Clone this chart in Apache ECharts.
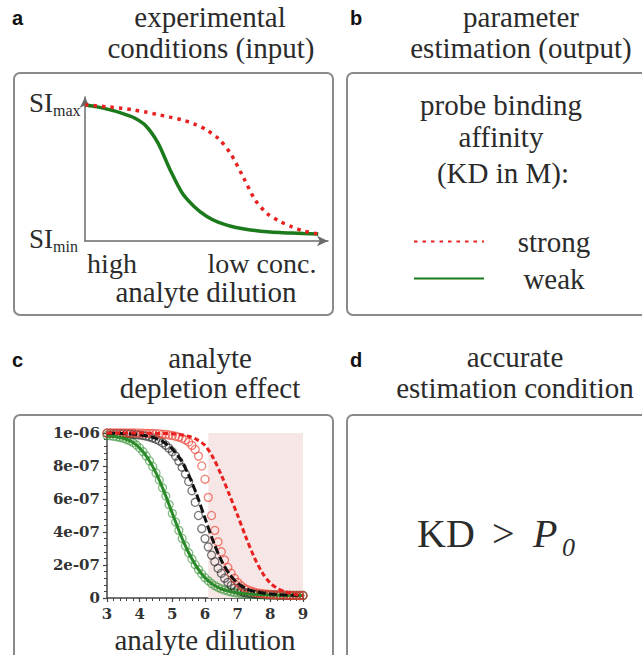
<!DOCTYPE html>
<html><head><meta charset="utf-8">
<script src="https://cdn.jsdelivr.net/npm/echarts@6/dist/echarts.min.js"></script>
<style>html,body{margin:0;padding:0;background:#fff}#c{width:642px;height:655px}</style>
</head><body><div id="c"></div>
<script>
// ---------- Panel a: schematic curves (x: 0..100 dilution, y: 0..100 signal) ----------
const aX       = [0, 5, 10, 15, 20, 25, 30, 35, 40, 45, 50, 55, 60, 65, 70, 75, 80, 85, 90, 96];
const aStrongY = [99.3, 98.5, 97.7, 96.8, 95.5, 94, 92.2, 90.3, 88.3, 85.3, 81, 74.5, 63.5, 47, 30, 20, 14.5, 10.5, 7.3, 5.1];
const aWeakY   = [99.3, 97.8, 95.8, 93.3, 90, 84, 71.5, 52, 35, 25, 18, 13.5, 10.8, 9, 7.7, 6.8, 6.2, 5.8, 5.4, 5.1];

// ---------- Panel c: analyte depletion (x: dilution 3..9, y in units of 1e-6) ----------
const lineX = [3.0,3.25,3.5,3.75,4.0,4.25,4.5,4.75,5.0,5.25,5.5,5.75,6.0,6.25,6.5,6.75,7.0,7.25,7.5,7.75,8.0,8.25,8.5,8.75,9.0];
const greenLine = [0.985,0.979,0.968,0.948,0.909,0.847,0.758,0.643,0.513,0.385,0.274,0.187,0.123,0.081,0.055,0.040,0.030,0.025,0.022,0.020,0.018,0.017,0.016,0.016,0.015];
const blackLine = [0.999,0.998,0.997,0.994,0.989,0.981,0.967,0.943,0.903,0.840,0.746,0.624,0.483,0.344,0.228,0.145,0.090,0.058,0.040,0.030,0.024,0.020,0.018,0.016,0.015];
const redLine   = [1.0,1.0,1.0,1.0,1.0,0.999,0.998,0.997,0.995,0.990,0.980,0.960,0.925,0.850,0.745,0.625,0.500,0.370,0.250,0.155,0.090,0.055,0.035,0.022,0.015];

const circleX = [3.0,3.1,3.2,3.3,3.4,3.5,3.6,3.7,3.8,3.9,4.0,4.1,4.2,4.3,4.4,4.5,4.6,4.7,4.8,4.9,5.0,5.1,5.2,5.3,5.4,5.5,5.6,5.7,5.8,5.9,6.0,6.1,6.2,6.3,6.4,6.5,6.6,6.7,6.8,6.9,7.0,7.1,7.2,7.3,7.4,7.5,7.6,7.7,7.8,7.9,8.0,8.1,8.2,8.3,8.4,8.5,8.6,8.7,8.8,8.9,9.0];
const greenCircles = [0.985,0.983,0.980,0.977,0.973,0.968,0.961,0.953,0.942,0.927,0.909,0.887,0.861,0.831,0.797,0.758,0.715,0.668,0.618,0.566,0.513,0.461,0.410,0.361,0.316,0.274,0.236,0.202,0.172,0.146,0.123,0.104,0.088,0.075,0.064,0.055,0.048,0.042,0.037,0.033,0.030,0.028,0.026,0.024,0.023,0.022,0.021,0.020,0.019,0.019,0.018,0.018,0.017,0.017,0.017,0.016,0.016,0.016,0.016,0.015,0.015];
const blackCircles = [0.999,0.999,0.998,0.998,0.997,0.996,0.995,0.994,0.992,0.990,0.988,0.985,0.981,0.976,0.970,0.962,0.953,0.941,0.926,0.908,0.886,0.860,0.829,0.793,0.752,0.706,0.650,0.580,0.500,0.420,0.360,0.310,0.260,0.220,0.180,0.150,0.120,0.095,0.075,0.060,0.048,0.040,0.034,0.030,0.027,0.025,0.023,0.022,0.021,0.020,0.019,0.018,0.018,0.017,0.017,0.016,0.016,0.016,0.016,0.015,0.015];
const redCircles   = [1.0,1.0,1.0,1.0,1.0,1.0,1.0,1.0,1.0,1.0,0.999,0.999,0.998,0.998,0.997,0.996,0.995,0.993,0.991,0.988,0.985,0.980,0.975,0.968,0.958,0.945,0.925,0.900,0.860,0.800,0.720,0.610,0.500,0.410,0.340,0.280,0.230,0.185,0.150,0.120,0.095,0.075,0.060,0.050,0.042,0.036,0.031,0.028,0.025,0.023,0.021,0.020,0.019,0.018,0.018,0.017,0.017,0.016,0.016,0.015,0.015];

const yTickLabels = ['0', '2e-07', '4e-07', '6e-07', '8e-07', '1e-06'];
const cutoffX = 6;           // dotted vertical line
const shadeRange = [6.1, 9]; // shaded region (x)
const shadeTop = 1.02;

const zip = (xs, ys) => xs.map((x, i) => [x, ys[i]]);

const SERIF = "Liberation Serif, DejaVu Serif, serif";
const SANS = "Liberation Sans, DejaVu Sans, sans-serif";
const TXT = '#2b2b2b';

function T(text, x, baseline, size, align, extra) {
  const st = Object.assign({
    text: text, x: x, y: baseline - 0.34 * size,
    fontSize: size, fontFamily: SERIF, fill: TXT,
    textAlign: align || 'center', textVerticalAlign: 'middle',
    align: align || 'center', verticalAlign: 'middle'
  }, extra || {});
  return { type: 'text', silent: true, z: 10, style: st };
}
function box(x, y, w, h) {
  return { type: 'rect', silent: true, z: 0, shape: { x: x, y: y, width: w, height: h, r: 6 },
    style: { fill: 'none', stroke: '#8a8a8a', lineWidth: 2 } };
}

const chart = echarts.init(document.getElementById('c'), null, { renderer: 'svg' });

const graphics = [
  box(14, 73, 319, 242),
  box(347, 73, 320, 242),
  box(14, 415, 319, 260),
  box(347, 415, 320, 260),
  T('a', 12, 25, 20, 'left', { fontFamily: SANS, fontWeight: 'bold', fill: '#111' }),
  T('b', 350, 25, 20, 'left', { fontFamily: SANS, fontWeight: 'bold', fill: '#111' }),
  T('c', 12, 367, 20, 'left', { fontFamily: SANS, fontWeight: 'bold', fill: '#111' }),
  T('d', 350, 367, 20, 'left', { fontFamily: SANS, fontWeight: 'bold', fill: '#111' }),
  T('experimental', 210, 27, 29),
  T('conditions (input)', 211, 58, 29),
  T('parameter', 521, 27, 29),
  T('estimation (output)', 521, 58, 29),
  T('analyte', 210, 368, 29),
  T('depletion effect', 210, 398, 29),
  T('accurate', 515, 367, 29),
  T('estimation condition', 515, 398, 29),
  T('SI', 53, 112, 27, 'right'),
  T('max', 53, 116, 16, 'left'),
  T('SI', 53, 248, 27, 'right'),
  T('min', 53, 252, 16, 'left'),
  T('high', 112, 273, 28),
  T('low conc.', 262, 273, 28),
  T('analyte dilution', 206, 302, 29),
  T('probe binding', 501, 115, 29),
  T('affinity', 501, 147, 29),
  T('(KD in M):', 503, 183, 29),
  T('KD', 417, 547, 40, 'left'),
  T('>', 492, 547, 40, 'left'),
  T('P', 533, 547, 40, 'left', { fontStyle: 'italic' }),
  T('0', 562, 556, 26, 'left', { fontStyle: 'italic' })
];

const option = {
  animation: false,
  backgroundColor: '#ffffff',
  textStyle: { fontFamily: SERIF },
  legend: {
    data: ['strong', 'weak'],
    orient: 'vertical',
    left: 408, top: 222,
    itemWidth: 70, itemHeight: 14, itemGap: 8,
    selectedMode: false,
    itemStyle: { opacity: 0, borderWidth: 0 },
    formatter: '{t|{name}}',
    textStyle: {
      rich: { t: { width: 130, align: 'center', fontSize: 29, fontFamily: SERIF, color: TXT } }
    }
  },
  grid: [
    { left: 85, top: 97, width: 243, height: 144 },
    { left: 107, top: 433, width: 196, height: 167 }
  ],
  xAxis: [
    { gridIndex: 0, type: 'value', min: 0, max: 100,
      axisLine: { show: true, symbol: ['none', 'arrow'], symbolSize: [8, 11], lineStyle: { color: '#6a6a6a', width: 1.5 } },
      axisTick: { show: false }, axisLabel: { show: false }, splitLine: { show: false } },
    { gridIndex: 1, type: 'value', min: 3, max: 9, interval: 1,
      axisLine: { show: true, onZero: false, lineStyle: { color: '#444', width: 1.5 } },
      axisTick: { show: true, length: 4, lineStyle: { color: '#444', width: 1.2 } },
      minorTick: { show: true, splitNumber: 5, length: 3, lineStyle: { color: '#444', width: 1 } },
      axisLabel: { fontFamily: "DejaVu Serif, serif", fontWeight: 'bold', fontSize: 15, color: '#333', margin: 8 },
      splitLine: { show: false }, minorSplitLine: { show: false },
      name: 'analyte dilution', nameLocation: 'middle', nameGap: 27,
      nameTextStyle: { fontFamily: SERIF, fontSize: 29, color: TXT } }
  ],
  yAxis: [
    { gridIndex: 0, type: 'value', min: 0, max: 105,
      axisLine: { show: true, symbol: ['none', 'arrow'], symbolSize: [8, 11], lineStyle: { color: '#6a6a6a', width: 1.5 } },
      axisTick: { show: false }, axisLabel: { show: false }, splitLine: { show: false } },
    { gridIndex: 1, type: 'value', min: 0, max: 1, interval: 0.2,
      axisLine: { show: true, onZero: false, lineStyle: { color: '#444', width: 1.5 } },
      axisTick: { show: true, length: 4, lineStyle: { color: '#444', width: 1.2 } },
      minorTick: { show: true, splitNumber: 5, length: 3, lineStyle: { color: '#444', width: 1 } },
      axisLabel: { fontFamily: "DejaVu Serif, serif", fontWeight: 'bold', fontSize: 15, color: '#333', margin: 7,
        formatter: v => yTickLabels[Math.round(v / 0.2)] },
      splitLine: { show: false }, minorSplitLine: { show: false } }
  ],
  series: [
    { name: 'weak', type: 'line', xAxisIndex: 0, yAxisIndex: 0, data: zip(aX, aWeakY),
      smooth: 0.3, showSymbol: false, symbol: 'none', z: 3,
      lineStyle: { color: '#1b7a1b', width: 3.5 }, itemStyle: { color: '#1b7a1b' } },
    { name: 'strong', type: 'line', xAxisIndex: 0, yAxisIndex: 0, data: zip(aX, aStrongY),
      smooth: 0.3, showSymbol: false, symbol: 'none', z: 4,
      lineStyle: { color: '#e82020', width: 3.5, type: [3.5, 5], cap: 'butt' }, itemStyle: { color: '#e82020' } },

    { name: 'region', type: 'line', xAxisIndex: 1, yAxisIndex: 1, data: zip(shadeRange, [0, 0]),
      showSymbol: false, symbol: 'none', silent: true, z: 1, lineStyle: { opacity: 0 },
      markArea: { silent: true, itemStyle: { color: '#f6e6e6' },
        data: [[{ coord: [shadeRange[0], 0] }, { coord: [shadeRange[1], shadeTop] }]] },
      markLine: { silent: true, symbol: ['none', 'none'], label: { show: false },
        lineStyle: { color: '#a0a0a0', width: 3, type: [3, 3] },
        data: [[{ coord: [cutoffX, 0] }, { coord: [cutoffX, shadeTop] }]] } },

    { name: 'greenCirc', type: 'scatter', xAxisIndex: 1, yAxisIndex: 1, data: zip(circleX, greenCircles),
      symbol: 'circle', symbolSize: 8, clip: false, z: 2,
      itemStyle: { color: 'rgba(0,0,0,0)', borderColor: 'rgba(60,150,60,0.8)', borderWidth: 1.3 } },
    { name: 'blackCirc', type: 'scatter', xAxisIndex: 1, yAxisIndex: 1, data: zip(circleX, blackCircles),
      symbol: 'circle', symbolSize: 8, clip: false, z: 2,
      itemStyle: { color: 'rgba(0,0,0,0)', borderColor: 'rgba(40,40,40,0.8)', borderWidth: 1.3 } },
    { name: 'redCirc', type: 'scatter', xAxisIndex: 1, yAxisIndex: 1, data: zip(circleX, redCircles),
      symbol: 'circle', symbolSize: 8, clip: false, z: 2,
      itemStyle: { color: 'rgba(0,0,0,0)', borderColor: 'rgba(235,70,55,0.85)', borderWidth: 1.3 } },

    { name: 'greenFit', type: 'line', xAxisIndex: 1, yAxisIndex: 1, data: zip(lineX, greenLine),
      smooth: 0.3, showSymbol: false, symbol: 'none', z: 3, clip: false,
      lineStyle: { color: '#2a8a2a', width: 3 } },
    { name: 'blackFit', type: 'line', xAxisIndex: 1, yAxisIndex: 1, data: zip(lineX, blackLine),
      smooth: 0.3, showSymbol: false, symbol: 'none', z: 3, clip: false,
      lineStyle: { color: '#111', width: 3, type: [8, 3] } },
    { name: 'redFit', type: 'line', xAxisIndex: 1, yAxisIndex: 1, data: zip(lineX, redLine),
      smooth: 0.3, showSymbol: false, symbol: 'none', z: 3, clip: false,
      lineStyle: { color: '#e82020', width: 3, type: [5, 3] } }
  ],
  graphic: graphics
};
chart.setOption(option);
</script>
</body></html>
